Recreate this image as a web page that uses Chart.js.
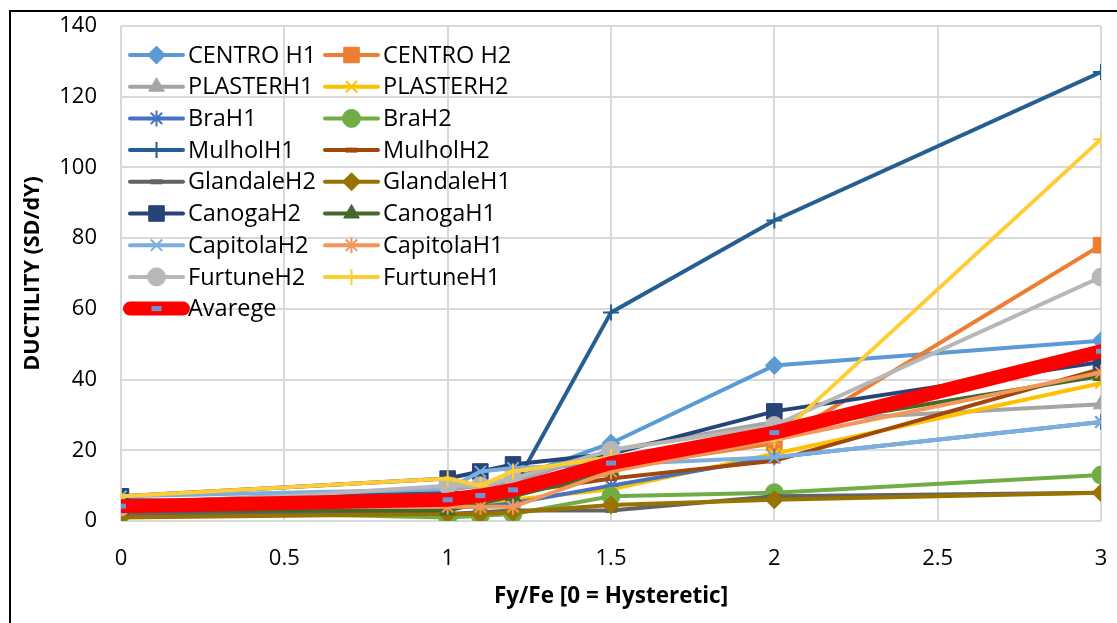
<!DOCTYPE html>
<html>
<head>
    <script src="https://cdn.jsdelivr.net/npm/chart.js@4/dist/chart.umd.min.js"></script>
    <style>
        body{
            margin: 0;
            background: #fff;
        }
        #frame{
            position: absolute;
            left: 9px;
            top: 10px;
            width: 1110px;
            height: 615px;
            border-left: 2px solid #000;
            border-top: 2px solid #000;
        }
        #chart{
            position: absolute;
            left: 0;
            top: 0;
        }
    </style>
</head>
<body>
<div id="frame"></div>
<canvas id="chart" width="1117" height="623"></canvas>
<script>
const xValues = [0, 1, 1.1, 1.2, 1.5, 2, 3];

const centroH1   = [5, 9, 10, 12, 22, 44, 51];
const centroH2   = [4, 5, 6, 8, 15, 22, 78];
const plasterH1  = [5, 9, 10, 11, 20, 28, 33];
const plasterH2  = [6, 4, 5, 6, 9, 19, 39];
const braH1      = [6, 4, 4, 5, 10, 18, 28];
const braH2      = [3, 1, 1.5, 2, 7, 8, 13];
const mulholH1   = [5, 8, 8, 9, 59, 85, 127];
const mulholH2   = [4, 5, 6, 8, 12, 17, 43];
const glandaleH2 = [2, 2, 2.5, 3, 3, 7, 8];
const glandaleH1 = [1, 2, 2, 2.5, 4.5, 6, 8];
const canogaH2   = [7, 12, 14, 16, 19, 31, 45];
const canogaH1   = [3, 3, 5, 7, 14, 26, 41];
const capitolaH2 = [7, 9, 14, 15, 16, 18, 28];
const capitolaH1 = [4, 4, 4, 4, 14, 23, 42];
const furtuneH2  = [4, 10, 10, 12, 20, 27, 69];
const furtuneH1  = [7, 12, 10, 14, 18, 23, 108];
const avarege    = [4.2, 6, 7.2, 8.8, 16.4, 25, 48];

const seriesNames = ['CENTRO H1', 'CENTRO H2', 'PLASTERH1', 'PLASTERH2', 'BraH1', 'BraH2',
    'MulholH1', 'MulholH2', 'GlandaleH2', 'GlandaleH1', 'CanogaH2', 'CanogaH1',
    'CapitolaH2', 'CapitolaH1', 'FurtuneH2', 'FurtuneH1', 'Avarege'];
const seriesValues = [centroH1, centroH2, plasterH1, plasterH2, braH1, braH2,
    mulholH1, mulholH2, glandaleH2, glandaleH1, canogaH2, canogaH1,
    capitolaH2, capitolaH1, furtuneH2, furtuneH1, avarege];

// styles (excel office palette + marker shape)
const styles = [
    {c: '#5B9BD5', p: 'rectRot', r: 9},
    {c: '#ED7D31', p: 'rect', r: 11},
    {c: '#A5A5A5', p: 'triangle', r: 9},
    {c: '#FFC000', p: 'crossRot', r: 8},
    {c: '#4472C4', p: 'star', r: 8},
    {c: '#70AD47', p: 'circle', r: 9},
    {c: '#255E91', p: 'cross', r: 8},
    {c: '#9E480E', p: 'line', r: 6},
    {c: '#636363', p: 'line', r: 6},
    {c: '#997300', p: 'rectRot', r: 9},
    {c: '#264478', p: 'rect', r: 11},
    {c: '#43682B', p: 'triangle', r: 9},
    {c: '#7CAFDD', p: 'crossRot', r: 8},
    {c: '#F1975A', p: 'star', r: 8},
    {c: '#B7B7B7', p: 'circle', r: 9},
    {c: '#FFCD33', p: 'cross', r: 8},
    {c: '#FF0000', p: 'line', r: 5, m: '#7092D3', w: 14}
];

const FONT = "'Open Sans', 'Noto Sans', sans-serif";

const datasets = seriesValues.map(function(vals, i){
    const s = styles[i];
    const markerColor = s.m || s.c;
    const filled = s.p === 'rect' || s.p === 'rectRot' || s.p === 'triangle' || s.p === 'circle';
    return {
        label: seriesNames[i],
        data: vals.map(function(v, k){ return {x: xValues[k], y: v}; }),
        borderColor: s.c,
        backgroundColor: s.c,
        borderWidth: s.w || 4,
        pointStyle: s.p,
        pointRadius: s.r,
        pointBackgroundColor: markerColor,
        pointBorderColor: markerColor,
        pointBorderWidth: s.p === 'line' ? 5 : (filled ? 1 : 2),
        borderCapStyle: s.w ? 'round' : 'butt',
        tension: 0,
        order: seriesValues.length - i
    };
});

// legend drawn inside the plot, two columns
const insideLegend = {
    id: 'insideLegend',
    afterDatasetsDraw(chart) {
        const ctx = chart.ctx;
        const drawPoint = Chart.helpers && Chart.helpers.drawPoint;
        ctx.save();
        chart.data.datasets.forEach(function(ds, i){
            const col = i % 2;
            const row = Math.floor(i / 2);
            const x0 = col === 0 ? 130 : 325;
            const y = 55 + row * 31.7;
            ctx.strokeStyle = ds.borderColor;
            ctx.lineWidth = ds.borderWidth;
            ctx.lineCap = 'round';
            ctx.beginPath();
            ctx.moveTo(x0, y);
            ctx.lineTo(x0 + 53, y);
            ctx.stroke();
            if (drawPoint) {
                ctx.fillStyle = ds.pointBackgroundColor;
                ctx.strokeStyle = ds.pointBorderColor;
                ctx.lineWidth = ds.pointBorderWidth;
                ctx.lineCap = 'butt';
                drawPoint(ctx, {pointStyle: ds.pointStyle, radius: ds.pointRadius, rotation: 0, borderWidth: ds.pointBorderWidth}, x0 + 26.5, y);
            }
            ctx.fillStyle = '#000';
            ctx.font = '23.5px ' + FONT;
            ctx.textBaseline = 'middle';
            ctx.textAlign = 'left';
            ctx.fillText(ds.label, x0 + 58, y + 1);
        });
        ctx.restore();
    }
};

const chart = new Chart(document.getElementById('chart'), {
    type: 'line',
    data: {datasets: datasets},
    options: {
        responsive: false,
        animation: false,
        layout: {padding: {left: 10, top: 26, right: 16, bottom: 0}},
        plugins: {
            legend: {display: false},
            tooltip: {enabled: false}
        },
        scales: {
            x: {
                type: 'linear',
                min: 0,
                max: 3,
                ticks: {
                    stepSize: 0.5,
                    color: '#000',
                    padding: 25,
                    maxRotation: 0,
                    font: {family: FONT, size: 22},
                    callback: function(v){ return String(Math.round(v * 10) / 10); }
                },
                grid: {color: '#D9D9D9', lineWidth: 2, drawTicks: false},
                border: {display: false},
                title: {
                    display: true,
                    text: 'Fy/Fe [0 = Hysteretic]',
                    color: '#000',
                    padding: {top: 0, bottom: 13},
                    font: {family: FONT, size: 22.5, weight: 'bold'}
                },
                afterFit(scale) {
                    scale.height = 102;
                    scale.paddingLeft = 0;
                    scale.paddingRight = 0;
                }
            },
            y: {
                min: 0,
                max: 140,
                ticks: {
                    stepSize: 20,
                    color: '#000',
                    padding: 24,
                    font: {family: FONT, size: 22}
                },
                grid: {color: '#D9D9D9', lineWidth: 2, drawTicks: false},
                border: {display: false},
                title: {
                    display: true,
                    text: 'DUCTILITY (SD/dY)',
                    color: '#000',
                    padding: {top: 10, bottom: 0},
                    font: {family: FONT, size: 21.5, weight: 'bold'}
                },
                afterFit(scale) {
                    scale.width = 111;
                    scale.paddingTop = 0;
                    scale.paddingBottom = 0;
                }
            }
        }
    },
    plugins: [insideLegend]
});
</script>
</body>
</html>
